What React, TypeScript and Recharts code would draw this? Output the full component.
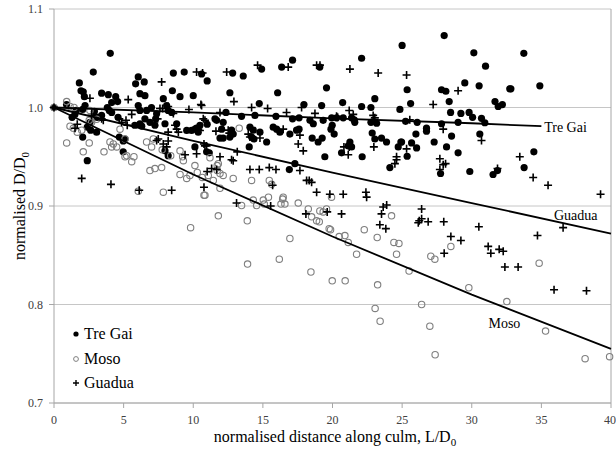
import React from 'react'
import { ScatterChart, Scatter, XAxis, YAxis, CartesianGrid, ReferenceLine } from 'recharts'

// [L/D0, D/D0]
const treGai: [number, number][] = [
  [0, 1.0], [0.9, 1.003], [1.3, 0.99], [1.5, 0.993], [1.6, 0.997], [1.82, 1.025], [1.94, 1.017], [2.1, 1.016],
  [2.18, 1.011], [2.23, 1.002], [2.06, 0.998], [2.06, 0.97], [2.39, 0.98], [2.39, 0.946], [2.58, 0.985],
  [2.63, 0.977], [2.82, 1.036], [2.9, 0.996], [3.06, 0.975], [3.1, 0.99], [3.42, 1.0145], [3.42, 0.992],
  [3.9, 1.013], [3.83, 1.0], [3.97, 0.997], [4.04, 1.055], [4.14, 0.995], [4.14, 1.005], [4.43, 1.011],
  [4.57, 1.006], [4.6, 0.99], [4.69, 0.97], [4.97, 0.966], [4.97, 0.955], [5.1, 0.968],
  [6.05, 1.031], [5.86, 1.024], [6.48, 1.026], [6.17, 1.014], [6.53, 1.012], [8.57, 1.035], [9.35, 1.036],
  [10.6, 1.034], [8.5, 1.017], [9.05, 1.011], [10.0, 1.012], [7.85, 1.009], [6.05, 1.002], [6.17, 0.997],
  [6.65, 0.997], [7.0, 1.0], [7.37, 0.9936], [8.09, 1.002], [8.45, 0.995], [8.2, 0.997], [6.53, 0.9885],
  [6.17, 0.9835], [6.89, 0.985], [7.3, 0.9885], [7.25, 0.982], [7.97, 0.9835], [8.81, 0.9835], [9.53, 0.9767],
  [9.88, 0.9767], [10.12, 0.978], [10.24, 0.979], [10.48, 0.982], [10.36, 0.975], [5.8, 0.982], [6.3, 0.981],
  [7.97, 0.956], [8.2, 0.951], [10.12, 0.96],
  [11.0, 1.027], [12.83, 1.035], [13.59, 1.032], [14.91, 1.039], [16.35, 1.041], [17.13, 1.048], [12.63, 1.015],
  [16.06, 1.015], [14.74, 1.004], [12.35, 0.995], [13.47, 0.991], [14.43, 0.992], [15.94, 0.991], [17.13, 0.9885],
  [11.56, 0.9885], [11.68, 0.987], [12.15, 0.985], [11.0, 0.983], [12.04, 0.978], [12.75, 0.977], [12.87, 0.973],
  [12.63, 0.97], [12.15, 0.969], [11.92, 0.969], [14.07, 0.98], [14.31, 0.977], [14.79, 0.975], [14.19, 0.97],
  [14.36, 0.968], [15.74, 0.98], [15.99, 0.978], [16.22, 0.975], [16.94, 0.973], [17.42, 0.977], [14.02, 0.96],
  [15.27, 0.965], [10.96, 0.955], [11.15, 0.954], [17.3, 0.943], [16.9, 0.937],
  [25.0, 1.063], [22.09, 1.05], [19.09, 1.041], [19.57, 1.02], [17.95, 1.003], [19.22, 1.002], [20.73, 1.005],
  [22.09, 1.001], [22.76, 1.0], [23.04, 1.009], [24.84, 0.998], [17.6, 0.9895], [18.38, 0.987], [18.62, 0.9835],
  [19.33, 0.987], [19.94, 0.9895], [20.29, 0.9895], [20.77, 0.9895], [21.37, 0.9895], [21.56, 0.9875], [21.6, 0.985],
  [22.76, 0.985], [23.17, 0.984], [17.6, 0.978], [19.89, 0.978], [19.98, 0.982], [20.12, 0.973], [18.54, 0.969],
  [18.97, 0.965], [19.26, 0.969], [21.25, 0.965], [21.37, 0.96], [21.13, 0.961], [22.85, 0.974], [23.04, 0.968],
  [23.52, 0.969], [23.88, 0.965], [24.91, 0.965], [24.72, 0.96], [19.45, 0.95], [20.65, 0.954], [22.13, 0.95],
  [24.12, 0.939],
  [28.02, 1.073], [30.15, 1.0555], [30.99, 1.042], [29.5, 1.025], [30.53, 1.022], [27.83, 1.018], [28.14, 1.0165],
  [28.38, 1.006], [25.36, 1.018], [25.61, 1.004], [32.73, 1.019], [31.67, 1.006], [31.9, 1.001], [32.2, 1.003],
  [28.48, 0.995], [29.22, 0.994], [29.81, 0.995], [30.06, 0.99], [30.7, 0.989], [30.94, 0.9845], [29.02, 0.985],
  [27.83, 0.9835], [25.25, 0.986], [26.08, 0.985], [26.75, 0.979], [26.75, 0.976], [25.99, 0.973], [28.55, 0.971],
  [30.58, 0.973], [27.3, 0.965], [28.19, 0.96], [25.68, 0.964], [26.04, 0.959], [29.02, 0.954], [25.36, 0.9505],
  [24.96, 0.965], [27.76, 0.933], [29.86, 0.935], [31.53, 0.932], [31.85, 0.936], [33.74, 1.055], [32.81, 1.019],
  [34.89, 1.022], [34.46, 0.955], [33.76, 0.939],
]

const moso: [number, number][] = [
  [0, 1.0], [0.91, 1.006], [1.15, 1.001], [1.44, 1.0], [1.15, 0.981], [1.39, 0.979], [0.91, 0.964], [1.67, 0.975],
  [1.99, 0.977], [2.53, 0.964], [2.1, 0.955], [2.53, 0.987], [2.7, 0.985], [3.06, 0.988], [2.58, 0.997],
  [4.02, 0.965], [4.14, 0.96], [4.5, 0.96], [3.59, 0.955], [4.26, 0.963], [4.74, 0.978], [5.1, 0.95], [5.1, 0.968],
  [5.22, 0.951], [5.58, 0.945], [5.74, 0.95], [6.65, 0.965], [7.01, 0.96], [7.13, 0.968], [6.89, 0.936],
  [7.25, 0.938], [7.73, 0.939], [7.85, 0.914], [8.38, 0.951], [7.77, 0.957], [9.05, 0.932], [9.53, 0.928],
  [9.76, 0.931], [9.24, 0.95], [9.05, 0.956], [9.29, 0.946], [10.12, 0.941], [10.29, 0.934], [10.65, 0.929],
  [10.77, 0.911], [11.08, 0.931], [11.44, 0.926], [11.8, 0.943], [11.92, 0.933], [12.15, 0.931], [11.2, 0.949],
  [11.72, 0.941], [11.72, 0.936], [11.8, 0.89], [12.87, 0.928], [13.88, 0.885], [13.3, 0.979], [14.19, 0.926],
  [14.31, 0.906], [14.55, 0.9005], [15.03, 0.906], [15.4, 0.909], [15.46, 0.926], [15.63, 0.922], [15.1, 0.902],
  [16.42, 0.907], [16.58, 0.902], [16.3, 0.902], [16.46, 0.909], [17.54, 0.903], [18.26, 0.897], [18.5, 0.889],
  [18.86, 0.885], [9.81, 0.878], [13.9, 0.841], [16.18, 0.846], [16.94, 0.867], [18.45, 0.833], [6.05, 0.915],
  [10.84, 0.911], [11.92, 0.918], [13.47, 0.9005], [19.05, 0.884], [19.33, 0.894], [19.76, 0.877], [19.86, 0.876],
  [20.48, 0.869], [20.89, 0.87], [21.13, 0.863], [21.73, 0.851], [22.28, 0.876], [19.98, 0.824], [20.91, 0.824],
  [23.21, 0.868], [23.24, 0.82], [23.06, 0.796], [23.42, 0.783], [24.41, 0.863], [24.77, 0.862], [24.6, 0.851],
  [25.5, 0.834], [26.4, 0.8], [27.06, 0.849], [27.35, 0.846], [26.99, 0.778], [27.37, 0.749], [28.5, 0.859],
  [29.79, 0.817], [32.52, 0.803], [34.84, 0.842], [35.3, 0.773], [38.14, 0.745], [39.9, 0.747], [19.93, 0.909],
  [24.24, 0.89], [19.57, 0.897], [19.09, 0.895],
]

const guadua: [number, number][] = [
  [0, 1.0], [2.58, 1.0094], [5.33, 1.008], [7.73, 1.026], [8.2, 1.001], [7.8, 0.999], [9.69, 0.998], [10.55, 1.003],
  [12.92, 1.006], [10.24, 1.036], [10.67, 1.035], [12.4, 1.036], [14.62, 1.043], [16.82, 1.041], [18.86, 1.043],
  [14.19, 1.0], [15.34, 0.999], [16.7, 0.995], [18.74, 0.994], [1.67, 0.983], [1.51, 0.979], [2.7, 0.992],
  [3.42, 0.9885], [3.54, 0.987], [4.69, 0.9885], [4.86, 0.985], [5.17, 0.987], [5.26, 0.982], [5.58, 0.993],
  [7.61, 0.999], [8.57, 0.994], [8.69, 0.982], [8.81, 0.978], [8.93, 0.975], [8.2, 0.975], [7.44, 0.9885],
  [10.36, 0.978], [10.48, 0.9767], [7.37, 0.9665], [7.85, 0.963], [8.09, 0.96], [7.49, 0.968], [8.2, 0.966],
  [9.41, 0.952], [10.24, 0.953], [10.77, 0.963], [10.96, 0.961], [11.92, 0.95], [12.87, 0.946], [13.16, 0.955],
  [11.68, 0.937], [11.32, 0.938], [11.0, 0.935], [14.07, 0.937], [14.74, 0.937], [15.46, 0.939], [15.94, 0.937],
  [15.7, 0.921], [17.66, 0.936], [17.54, 0.963], [17.9, 0.956], [18.14, 0.926], [18.5, 0.924], [18.86, 0.914],
  [15.56, 0.9], [18.09, 0.892], [1.99, 0.928], [4.09, 0.922], [6.12, 0.916], [8.45, 0.916], [10.77, 0.919],
  [13.11, 0.903], [10.6, 1.002], [11.92, 0.995], [10.72, 0.9885], [10.84, 0.987], [11.63, 0.976], [12.51, 0.977],
  [12.59, 0.974], [13.95, 0.973], [14.07, 0.97], [14.79, 0.969], [16.46, 0.978], [10.84, 0.961], [12.75, 0.947],
  [19.1, 1.043], [21.25, 1.039], [23.28, 1.035], [25.32, 1.033], [29.02, 1.017], [27.23, 1.003], [20.29, 0.991],
  [21.2, 0.997], [21.49, 0.993], [22.92, 0.992], [25.55, 0.9875], [17.78, 1.0], [20.37, 0.99], [23.04, 0.9895],
  [17.66, 0.972], [20.82, 0.96], [21.2, 0.96], [21.13, 0.952], [22.97, 0.96], [25.32, 0.958], [27.95, 0.978],
  [30.7, 0.9665], [24.6, 0.95], [24.48, 0.943], [24.6, 0.947], [27.71, 0.948], [27.71, 0.937], [28.12, 0.943],
  [27.95, 0.942], [31.85, 0.938], [33.45, 0.95], [34.41, 0.929], [35.48, 0.921], [39.25, 0.912], [18.33, 0.926],
  [19.81, 0.912], [20.77, 0.912], [22.4, 0.914], [22.45, 0.909], [19.62, 0.894], [20.65, 0.892], [23.64, 0.899],
  [23.52, 0.892], [26.4, 0.897], [26.23, 0.885], [26.87, 0.884], [27.99, 0.884], [30.51, 0.879], [36.56, 0.878],
  [23.89, 0.901], [23.4, 0.881], [23.83, 0.877], [26.4, 0.887], [26.16, 0.883], [28.5, 0.869], [29.22, 0.865],
  [28.02, 0.852], [31.18, 0.859], [31.37, 0.852], [31.97, 0.856], [32.26, 0.854], [32.38, 0.838], [33.33, 0.838],
  [34.72, 0.87], [35.91, 0.815], [38.24, 0.814],
]

// trend lines, read at a few x positions
const treGaiFit: [number, number][] = [[0, 1.0], [10, 0.995], [20, 0.989], [30, 0.984], [35, 0.981]]
const guaduaFit: [number, number][] = [[0, 1.0], [10, 0.966], [20, 0.934], [30, 0.903], [40, 0.872]]
const mosoFit: [number, number][] = [[0, 1.0], [10, 0.932], [20, 0.869], [30, 0.81], [40, 0.755]]

const fitLabels = [
  { x: 35.2, y: 0.98, name: 'Tre Gai' },
  { x: 35.9, y: 0.89, name: 'Guadua' },
  { x: 31.2, y: 0.781, name: 'Moso' },
]

const xTicks = [0, 5, 10, 15, 20, 25, 30, 35, 40]
const yTicks = [0.7, 0.8, 0.9, 1.0, 1.1]

const FONT = '"Liberation Serif", "Times New Roman", serif'

const toPts = (arr: [number, number][]) => arr.map(([x, y]) => ({ x, y }))

const Dot = (p: any) => <circle cx={p.cx} cy={p.cy} r={3.6} fill="#000" />
const Ring = (p: any) => <circle cx={p.cx} cy={p.cy} r={3.2} fill="none" stroke="#7f7f7f" strokeWidth={1.1} />
const Plus = (p: any) => (
  <path d={`M${p.cx - 4},${p.cy}h8M${p.cx},${p.cy - 4}v8`} stroke="#000" strokeWidth={1.6} />
)
const Empty = () => <g />
const FitLabel = (p: any) => (
  <text x={p.cx} y={p.cy} dominantBaseline="central" fontFamily={FONT} fontSize={14} fill="#000">
    {p.payload.name}
  </text>
)

const legendItems = [
  { name: 'Tre Gai', icon: <circle cx={6} cy={6} r={2.6} fill="#000" /> },
  { name: 'Moso', icon: <circle cx={6} cy={6} r={2.4} fill="none" stroke="#7f7f7f" strokeWidth={1} /> },
  { name: 'Guadua', icon: <path d="M3,6h6M6,3v6" stroke="#000" strokeWidth={1.4} /> },
]

export default function App() {
  return (
    <div style={{ position: 'fixed', left: 0, top: 0, width: 616, height: 454, background: '#fff' }}>
      <ScatterChart width={616} height={454} margin={{ top: 9, right: 5, left: 10, bottom: 0 }}>
        <CartesianGrid vertical={false} stroke="#c6c6c6" />
        <XAxis
          type="number"
          dataKey="x"
          domain={[0, 40]}
          ticks={xTicks}
          height={51}
          stroke="#a6a6a6"
          tickSize={5}
          tickMargin={7}
          tick={{ fill: '#404040', fontSize: 12, fontFamily: FONT }}
          label={{
            content: () => (
              <text x={335} y={442} textAnchor="middle" fontFamily={FONT} fontSize={16} fill="#000">
                normalised distance along culm, L/D<tspan fontSize={11} dy={4}>0</tspan>
              </text>
            ),
          }}
        />
        <YAxis
          type="number"
          dataKey="y"
          domain={[0.7, 1.1]}
          ticks={yTicks}
          width={44}
          stroke="#a6a6a6"
          tickSize={5}
          tickMargin={6}
          tickFormatter={(v: number) => v.toFixed(1)}
          tick={{ fill: '#404040', fontSize: 12, fontFamily: FONT }}
          label={{
            content: () => (
              <text
                x={0}
                y={0}
                transform="translate(25,206) rotate(-90)"
                textAnchor="middle"
                fontFamily={FONT}
                fontSize={16}
                fill="#000"
              >
                normalised D/D<tspan fontSize={11} dy={4}>0</tspan>
              </text>
            ),
          }}
        />
        <ReferenceLine x={40} stroke="#a6a6a6" />
        <Scatter data={toPts(treGai)} shape={Dot} isAnimationActive={false} />
        <Scatter data={toPts(moso)} shape={Ring} isAnimationActive={false} />
        <Scatter data={toPts(guadua)} shape={Plus} isAnimationActive={false} />
        <Scatter data={toPts(treGaiFit)} line={{ stroke: '#000', strokeWidth: 1.8 }} shape={Empty} isAnimationActive={false} />
        <Scatter data={toPts(guaduaFit)} line={{ stroke: '#000', strokeWidth: 1.8 }} shape={Empty} isAnimationActive={false} />
        <Scatter data={toPts(mosoFit)} line={{ stroke: '#000', strokeWidth: 1.8 }} shape={Empty} isAnimationActive={false} />
        <Scatter data={fitLabels} shape={FitLabel} isAnimationActive={false} />
      </ScatterChart>
      <div style={{ position: 'absolute', left: 70, top: 322, fontFamily: FONT, fontSize: 16, lineHeight: '24.5px', color: '#000' }}>
        {legendItems.map((it) => (
          <div key={it.name} style={{ display: 'flex', alignItems: 'center' }}>
            <svg width={12} height={12} style={{ marginRight: 2 }}>{it.icon}</svg>
            <span>{it.name}</span>
          </div>
        ))}
      </div>
    </div>
  )
}
